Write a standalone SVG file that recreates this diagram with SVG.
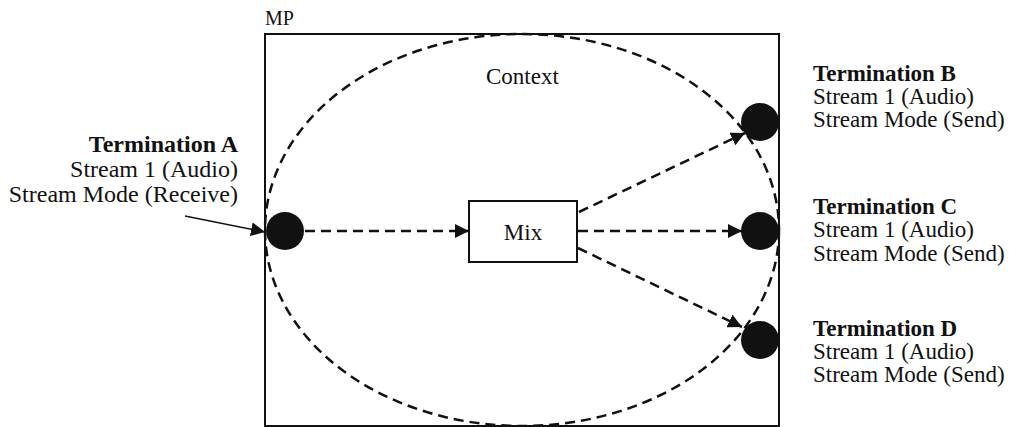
<svg xmlns="http://www.w3.org/2000/svg" width="1016" height="427" viewBox="0 0 1016 427">
<defs>
<marker id="ah" viewBox="0 0 14 14" refX="14" refY="7" markerWidth="14" markerHeight="14" markerUnits="userSpaceOnUse" orient="auto">
<path d="M0,0 L14,7 L0,14 z" fill="#111"/>
</marker>
<style>
text{font-family:"Liberation Serif","Times New Roman",serif;font-size:23px;fill:#111}
.a{font-size:24px}
.b{font-weight:bold}
.dash{fill:none;stroke:#111;stroke-width:2.5;stroke-dasharray:10 6}
.solid{fill:none;stroke:#111;stroke-width:1.5}
.term{fill:#111}
</style>
</defs>
<rect width="1016" height="427" fill="#fff"/>
<g id="mp">
<rect x="265" y="34" width="514" height="392" fill="none" stroke="#111" stroke-width="2"/>
<text x="265" y="25" style="font-size:20px">MP</text>
</g>
<g id="context">
<ellipse cx="522" cy="230" rx="257" ry="196" class="dash"/>
<text x="486" y="84">Context</text>
</g>
<g id="mix">
<rect x="469" y="201" width="108" height="61" fill="#fff" stroke="#111" stroke-width="2"/>
<text x="523" y="240" text-anchor="middle">Mix</text>
</g>
<g id="termA">
<circle cx="285" cy="231" r="19" class="term"/>
<text x="238" y="152" text-anchor="end" class="a b">Termination A</text>
<text x="238" y="177" text-anchor="end" class="a">Stream 1 (Audio)</text>
<text x="238" y="202" text-anchor="end" class="a">Stream Mode (Receive)</text>
</g>
<g id="termB">
<circle cx="760" cy="122" r="19" class="term"/>
<text x="813" y="81" class="b">Termination B</text>
<text x="813" y="104">Stream 1 (Audio)</text>
<text x="813" y="127">Stream Mode (Send)</text>
</g>
<g id="termC">
<circle cx="760" cy="231" r="19" class="term"/>
<text x="813" y="214" class="b">Termination C</text>
<text x="813" y="237">Stream 1 (Audio)</text>
<text x="813" y="261">Stream Mode (Send)</text>
</g>
<g id="termD">
<circle cx="760" cy="340" r="19" class="term"/>
<text x="813" y="336" class="b">Termination D</text>
<text x="813" y="359">Stream 1 (Audio)</text>
<text x="813" y="382">Stream Mode (Send)</text>
</g>
<g id="connectors">
<line x1="305" y1="231" x2="469" y2="231" class="dash" marker-end="url(#ah)"/>
<line x1="578" y1="231" x2="742" y2="231" class="dash" marker-end="url(#ah)"/>
<line x1="579" y1="212" x2="745" y2="133" class="dash" marker-end="url(#ah)"/>
<line x1="578" y1="248" x2="742" y2="327" class="dash" marker-end="url(#ah)"/>
<line x1="185" y1="216" x2="265" y2="232" class="solid" marker-end="url(#ah)"/>
</g>
</svg>
